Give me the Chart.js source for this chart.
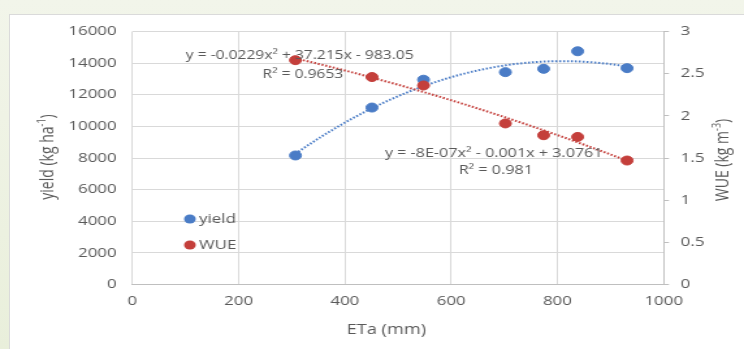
<!DOCTYPE html>
<html>
<head>
<meta charset="utf-8">
<script src="https://cdn.jsdelivr.net/npm/chart.js@4.4.1/dist/chart.umd.min.js"></script>
<style>
    html, body { margin: 0; padding: 0; }
    body {
        width: 744px; height: 349px; overflow: hidden; position: relative;
        background: linear-gradient(#f2f5ea, #e9efdb);
    }
    #panel {
        position: absolute; left: 9px; top: 14px; width: 740px; height: 340px;
        background: #fff; border: 1px solid #dadada;
    }
    /* the original picture is stretched sideways, so the canvas is too */
    #myChart { position: absolute; left: 0; top: 0; transform-origin: 0 0; transform: scaleX(1.3007); }
</style>
</head>
<body>
<div id="panel"></div>
<canvas id="myChart" width="572" height="349"></canvas>
<script>
// datos
const eta = [307, 451, 548, 702, 774, 838, 931];
const yieldKg = [8160, 11190, 12950, 13430, 13640, 14750, 13680];
const wue = [2.66, 2.46, 2.36, 1.91, 1.77, 1.75, 1.47];

// ticks
const xTicks = [0, 200, 400, 600, 800, 1000];
const yieldTicks = [0, 2000, 4000, 6000, 8000, 10000, 12000, 14000, 16000];
const wueTicks = [0, 0.5, 1, 1.5, 2, 2.5, 3];

// textos de las lineas de tendencia
const eqYield = ['y = -0.0229x² + 37.215x - 983.05', 'R² = 0.9653'];
const eqWue = ['y = -8E-07x² - 0.001x + 3.0761', 'R² = 0.981'];

const BLUE = '#4a7cc6';
const RED = '#c43f3b';
const GREY = '#595959';
const GRID = '#d9d9d9';

(() => {
    const myChart = document.getElementById('myChart').getContext('2d');

    // ajuste cuadratico por minimos cuadrados (como la tendencia de excel)
    const quadFit = (xs, ys) => {
        let s = [0, 0, 0, 0, 0], t = [0, 0, 0];
        xs.forEach((x, i) => {
            for (let k = 0; k < 5; k++) s[k] += Math.pow(x, k);
            for (let k = 0; k < 3; k++) t[k] += ys[i] * Math.pow(x, k);
        });
        // matriz [c, b, a] para y = a x^2 + b x + c
        const m = [
            [s[0], s[1], s[2], t[0]],
            [s[1], s[2], s[3], t[1]],
            [s[2], s[3], s[4], t[2]]
        ];
        for (let i = 0; i < 3; i++) {
            for (let j = i + 1; j < 3; j++) {
                const f = m[j][i] / m[i][i];
                for (let k = i; k < 4; k++) m[j][k] -= f * m[i][k];
            }
        }
        const c = [0, 0, 0];
        for (let i = 2; i >= 0; i--) {
            let v = m[i][3];
            for (let k = i + 1; k < 3; k++) v -= m[i][k] * c[k];
            c[i] = v / m[i][i];
        }
        return x => c[0] + c[1] * x + c[2] * x * x;
    };

    const trendPoints = (xs, ys) => {
        const f = quadFit(xs, ys);
        const lo = Math.min(...xs), hi = Math.max(...xs);
        const pts = [];
        for (let i = 0; i <= 60; i++) {
            const x = lo + (hi - lo) * i / 60;
            pts.push({ x: x, y: f(x) });
        }
        return pts;
    };

    // texto con superindice, opcionalmente girado
    const drawRich = (ctx, parts, cx, cy, angle) => {
        const big = '14px "Open Sans"', small = '9px "Open Sans"';
        let total = 0;
        parts.forEach(p => { ctx.font = p[1] ? small : big; total += ctx.measureText(p[0]).width; });
        ctx.save();
        ctx.translate(cx, cy);
        ctx.rotate(angle);
        ctx.textAlign = 'left';
        ctx.textBaseline = 'alphabetic';
        let pos = -total / 2;
        parts.forEach(p => {
            ctx.font = p[1] ? small : big;
            ctx.fillText(p[0], pos, p[1] ? -1 : 5);
            pos += ctx.measureText(p[0]).width;
        });
        ctx.restore();
    };

    const extras = {
        id: 'extras',
        afterDatasetsDraw(chart) {
            const ctx = chart.ctx;
            const x = chart.scales.x, y = chart.scales.y, y1 = chart.scales.y1;
            ctx.save();
            ctx.fillStyle = GREY;
            ctx.textAlign = 'center';
            ctx.textBaseline = 'middle';
            ctx.font = '12px "Open Sans"';
            ctx.fillText(eqYield[0], x.getPixelForValue(315), y.getPixelForValue(14450));
            ctx.fillText(eqYield[1], x.getPixelForValue(321), y.getPixelForValue(13250));
            ctx.font = '12.4px "Open Sans"';
            ctx.fillText(eqWue[0], x.getPixelForValue(680), y1.getPixelForValue(1.55));
            ctx.fillText(eqWue[1], x.getPixelForValue(684), y1.getPixelForValue(1.35));

            // leyenda dentro del grafico
            const legend = [['yield', BLUE, 219], ['WUE', RED, 245]];
            ctx.font = '13px "Open Sans"';
            ctx.textAlign = 'left';
            legend.forEach(l => {
                ctx.fillStyle = l[1];
                ctx.beginPath();
                ctx.arc(146, l[2], 4.5, 0, Math.PI * 2);
                ctx.fill();
                ctx.fillStyle = GREY;
                ctx.fillText(l[0], 153, l[2]);
            });

            // titulos de ejes
            ctx.fillStyle = GREY;
            drawRich(ctx, [['ETa (mm)', false]], 297, 329, 0);
            drawRich(ctx, [['yield (kg ha', false], ['-1', true], [')', false]], 35.5, 157, -Math.PI / 2);
            drawRich(ctx, [['WUE (kg m', false], ['-3', true], [')', false]], 555, 160, -Math.PI / 2);
            ctx.restore();
        }
    };

    const tickFont = { family: '"Open Sans"', size: 13 };

    new Chart(myChart, {
        type: 'scatter',
        data: {
            datasets: [
                {
                    label: 'yield',
                    data: eta.map((e, i) => ({ x: e, y: yieldKg[i] })),
                    yAxisID: 'y',
                    backgroundColor: BLUE,
                    borderColor: BLUE,
                    pointRadius: 4.5,
                    order: 1
                },
                {
                    label: 'WUE',
                    data: eta.map((e, i) => ({ x: e, y: wue[i] })),
                    yAxisID: 'y1',
                    backgroundColor: RED,
                    borderColor: RED,
                    pointRadius: 4.5,
                    order: 0
                },
                {
                    label: 'yield trend',
                    data: trendPoints(eta, yieldKg),
                    yAxisID: 'y',
                    showLine: true,
                    pointRadius: 0,
                    borderColor: BLUE,
                    borderWidth: 2,
                    borderDash: [1.5, 1.5],
                    order: 3
                },
                {
                    label: 'WUE trend',
                    data: trendPoints(eta, wue),
                    yAxisID: 'y1',
                    showLine: true,
                    pointRadius: 0,
                    borderColor: RED,
                    borderWidth: 2,
                    borderDash: [1.5, 1.5],
                    order: 2
                }
            ]
        },
        options: {
            responsive: false,
            animation: false,
            devicePixelRatio: 1,
            layout: { padding: { top: 31.5, left: 0, right: 0, bottom: 0 } },
            plugins: { legend: { display: false }, tooltip: { enabled: false } },
            scales: {
                x: {
                    type: 'linear',
                    min: xTicks[0],
                    max: xTicks[xTicks.length - 1],
                    ticks: { stepSize: xTicks[1] - xTicks[0], padding: 9, color: GREY, font: tickFont,
                        callback: v => String(v) },
                    grid: { color: GRID, drawTicks: false },
                    border: { color: '#bfbfbf' },
                    afterFit: s => { s.height = 64.5; }
                },
                y: {
                    position: 'left',
                    min: yieldTicks[0],
                    max: yieldTicks[yieldTicks.length - 1],
                    ticks: { stepSize: yieldTicks[1] - yieldTicks[0], padding: 12, color: GREY, font: tickFont,
                        callback: v => String(v) },
                    grid: { color: GRID, drawTicks: false },
                    border: { display: false },
                    afterFit: s => { s.width = 101.7; }
                },
                y1: {
                    position: 'right',
                    min: wueTicks[0],
                    max: wueTicks[wueTicks.length - 1],
                    ticks: { stepSize: wueTicks[1] - wueTicks[0], padding: 9, color: GREY, font: tickFont,
                        callback: v => String(v) },
                    grid: { drawOnChartArea: false, drawTicks: true, tickLength: 4, color: '#bfbfbf' },
                    border: { color: '#bfbfbf' },
                    afterFit: s => { s.width = 61.7; }
                }
            }
        },
        plugins: [extras]
    });
})();
</script>
</body>
</html>
